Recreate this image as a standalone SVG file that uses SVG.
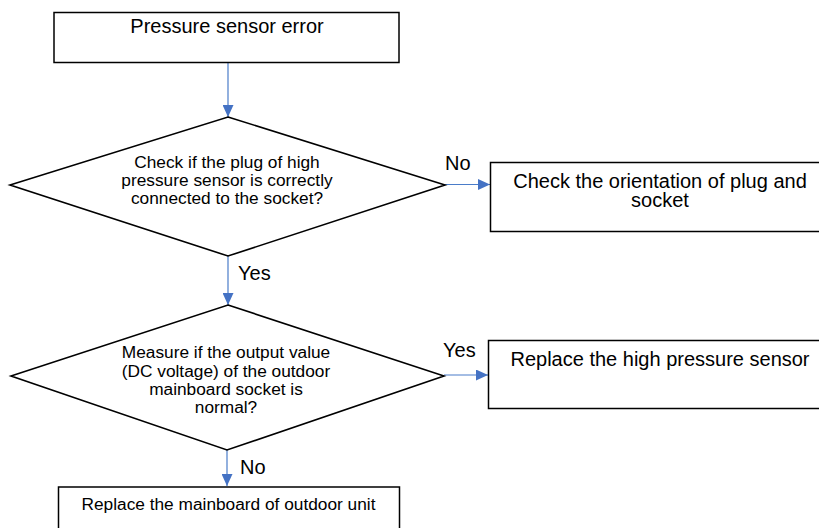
<svg xmlns="http://www.w3.org/2000/svg" width="819" height="528" viewBox="0 0 819 528">
<style>
.box{fill:#fff;stroke:#000;stroke-width:1.5}
.dia{fill:#fff;stroke:#000;stroke-width:1.6}
.t20{font-family:"Liberation Sans",Arial,sans-serif;font-size:20px;fill:#000;text-anchor:middle}
.t17{font-family:"Liberation Sans",Arial,sans-serif;font-size:17.3px;fill:#000;text-anchor:middle}
.lbl{font-family:"Liberation Sans",Arial,sans-serif;font-size:20px;fill:#000}
.con{stroke:#4a7cc9;stroke-width:1.2;fill:none}
</style>
<defs>
<marker id="ah" viewBox="0 0 12 11" refX="12" refY="5.5" markerWidth="12" markerHeight="11" markerUnits="userSpaceOnUse" orient="auto">
<path d="M0,0 L12,5.5 L0,11 Z" fill="#4472c4"/>
</marker>
</defs>
<rect width="819" height="528" fill="#fff"/>
<g id="connectors">
<line class="con" x1="228" y1="63" x2="228" y2="117" marker-end="url(#ah)"/>
<line class="con" x1="445" y1="184.5" x2="490" y2="184.5" marker-end="url(#ah)"/>
<line class="con" x1="228" y1="256" x2="228" y2="305" marker-end="url(#ah)"/>
<line class="con" x1="444" y1="375" x2="488" y2="375" marker-end="url(#ah)"/>
<line class="con" x1="227" y1="450" x2="227" y2="486" marker-end="url(#ah)"/>
<text class="lbl" x="445" y="170">No</text>
<text class="lbl" x="238" y="280">Yes</text>
<text class="lbl" x="443" y="357">Yes</text>
<text class="lbl" x="240" y="474">No</text>
</g>
<g id="start">
<rect class="box" x="54" y="12.5" width="345" height="50"/>
<text class="t20" x="227" y="33">Pressure sensor error</text>
</g>
<g id="decision1">
<polygon class="dia" points="228,117 445,185 228,256 10,185"/>
<text class="t17" x="227" y="167.5">Check if the plug of high</text>
<text class="t17" x="227" y="186">pressure sensor is correctly</text>
<text class="t17" x="227" y="204.3">connected to the socket?</text>
</g>
<g id="orientation">
<rect class="box" x="490.5" y="162.5" width="330" height="69"/>
<text class="t20" x="660" y="187.5">Check the orientation of plug and</text>
<text class="t20" x="660" y="206.5">socket</text>
</g>
<g id="decision2">
<polygon class="dia" points="228,305 444,376 227,450 11,376"/>
<text class="t17" x="226" y="358">Measure if the output value</text>
<text class="t17" x="226" y="376.5">(DC voltage) of the outdoor</text>
<text class="t17" x="226" y="395">mainboard socket is</text>
<text class="t17" x="226" y="413">normal?</text>
</g>
<g id="replace-sensor">
<rect class="box" x="488.5" y="340.5" width="332" height="68"/>
<text class="t20" x="660" y="366">Replace the high pressure sensor</text>
</g>
<g id="replace-mainboard">
<rect class="box" x="58.5" y="487" width="341" height="60"/>
<text class="t17" x="228.5" y="510">Replace the mainboard of outdoor unit</text>
</g>
</svg>
